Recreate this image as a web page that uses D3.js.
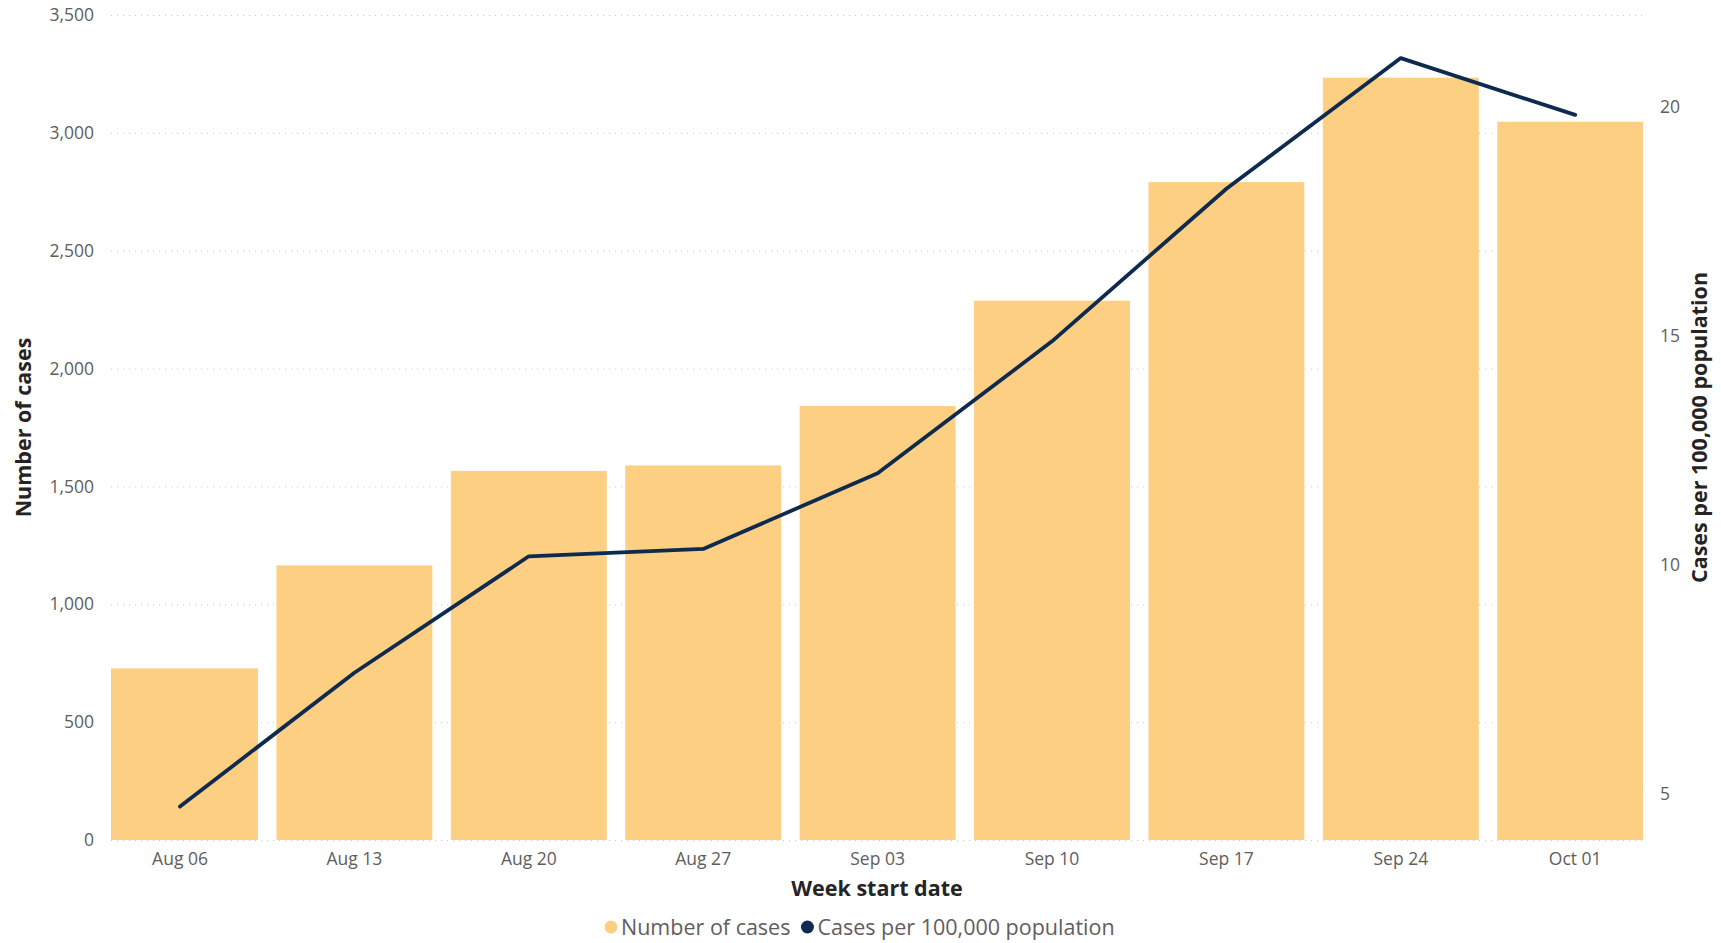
<!DOCTYPE html>
<html>
<head>
<meta charset="utf-8">
<script src="https://cdn.jsdelivr.net/npm/d3@7"></script>
<style>
  body { margin: 0; background: #fff; }
  svg { display: block; font-family: "Open Sans", "Noto Sans", sans-serif; }
</style>
</head>
<body>
<svg id="chart"></svg>
<script>
// data
const weeks = ["Aug 06", "Aug 13", "Aug 20", "Aug 27", "Sep 03", "Sep 10", "Sep 17", "Sep 24", "Oct 01"];
const cases = [728, 1165, 1566, 1589, 1841, 2288, 2791, 3234, 3047];
const ratePer100k = [4.73, 7.65, 10.19, 10.35, 12.0, 14.88, 18.21, 21.06, 19.82];
const leftTicks = [0, 500, 1000, 1500, 2000, 2500, 3000, 3500];
const rightTicks = [5, 10, 15, 20];

const width = 1721, height = 943;
const margin = { top: 15, right: 78, bottom: 103, left: 111 };
const barColor = "#FCCF82", lineColor = "#0E2A4F";

const svg = d3.select("#chart").attr("width", width).attr("height", height);

const plotL = margin.left, plotR = width - margin.right;
const plotT = margin.top, plotB = height - margin.bottom;

const y = d3.scaleLinear().domain([0, 3500]).range([plotB, plotT]);
const y2 = d3.scaleLinear().domain([4, 22]).range([plotB, plotT]);

// bands run a little past the plot area, bars get clipped at both ends
const step = 174.4;
const x = d3.scaleBand()
  .domain(weeks)
  .range([180 - step / 2, 180 + step * 8 + step / 2])
  .paddingInner(0.106)
  .paddingOuter(0.053);

svg.append("defs").append("clipPath").attr("id", "plotclip")
  .append("rect")
  .attr("x", plotL).attr("y", 0)
  .attr("width", plotR - plotL).attr("height", plotB + 1);

// grid
svg.append("g")
  .selectAll("line")
  .data(leftTicks)
  .join("line")
  .attr("x1", plotL).attr("x2", plotR)
  .attr("y1", d => y(d) + 0.5).attr("y2", d => y(d) + 0.5)
  .attr("stroke", "#C8C6C4")
  .attr("stroke-width", 1)
  .attr("stroke-dasharray", "1,5");

// bars
svg.append("g")
  .attr("clip-path", "url(#plotclip)")
  .selectAll("rect")
  .data(cases)
  .join("rect")
  .attr("x", (d, i) => x(weeks[i]))
  .attr("y", d => y(d))
  .attr("width", x.bandwidth())
  .attr("height", d => plotB - y(d))
  .attr("fill", barColor);

// line
const line = d3.line()
  .x((d, i) => x(weeks[i]) + x.bandwidth() / 2)
  .y(d => y2(d));

svg.append("path")
  .datum(ratePer100k)
  .attr("fill", "none")
  .attr("stroke", lineColor)
  .attr("stroke-width", 3.8)
  .attr("stroke-linejoin", "round")
  .attr("stroke-linecap", "round")
  .attr("d", line);

const styleTicks = g => g
  .attr("font-family", null)
  .attr("font-size", null)
  .call(g => g.select(".domain").remove())
  .selectAll("text")
  .attr("fill", "#605E5C")
  .attr("font-size", 17.5);

// left axis
svg.append("g")
  .attr("transform", `translate(${plotL - 14},0)`)
  .call(d3.axisLeft(y).tickValues(leftTicks).tickFormat(d3.format(",")).tickSize(0))
  .call(styleTicks);

// right axis
svg.append("g")
  .attr("transform", `translate(${plotR + 14},0)`)
  .call(d3.axisRight(y2).tickValues(rightTicks).tickSize(0))
  .call(styleTicks);

// x axis
svg.append("g")
  .attr("transform", `translate(0,${plotB + 10})`)
  .call(d3.axisBottom(x).tickSize(0))
  .call(styleTicks);

// axis titles
const titleStyle = t => t
  .attr("text-anchor", "middle")
  .attr("font-size", 21.5).attr("font-weight", "bold").attr("fill", "#252423");

svg.append("text")
  .attr("transform", `translate(31,${(plotT + plotB) / 2}) rotate(-90)`)
  .call(titleStyle)
  .text("Number of cases");

svg.append("text")
  .attr("transform", `translate(1707,${(plotT + plotB) / 2}) rotate(-90)`)
  .call(titleStyle)
  .text("Cases per 100,000 population");

svg.append("text")
  .attr("x", (plotL + plotR) / 2).attr("y", 896)
  .call(titleStyle)
  .text("Week start date");

// legend
const legendItems = [
  { label: "Number of cases", color: barColor },
  { label: "Cases per 100,000 population", color: lineColor }
];
const legend = svg.append("g").attr("transform", "translate(0,927)");
let lx = 605;
legendItems.forEach(item => {
  legend.append("circle").attr("cx", lx + 6).attr("cy", 0).attr("r", 6.5).attr("fill", item.color);
  const t = legend.append("text")
    .attr("x", lx + 16).attr("y", 0).attr("dy", "0.35em")
    .attr("font-size", 21.5).attr("fill", "#605E5C")
    .text(item.label);
  lx += 16 + t.node().getComputedTextLength() + 11;
});
</script>
</body>
</html>
